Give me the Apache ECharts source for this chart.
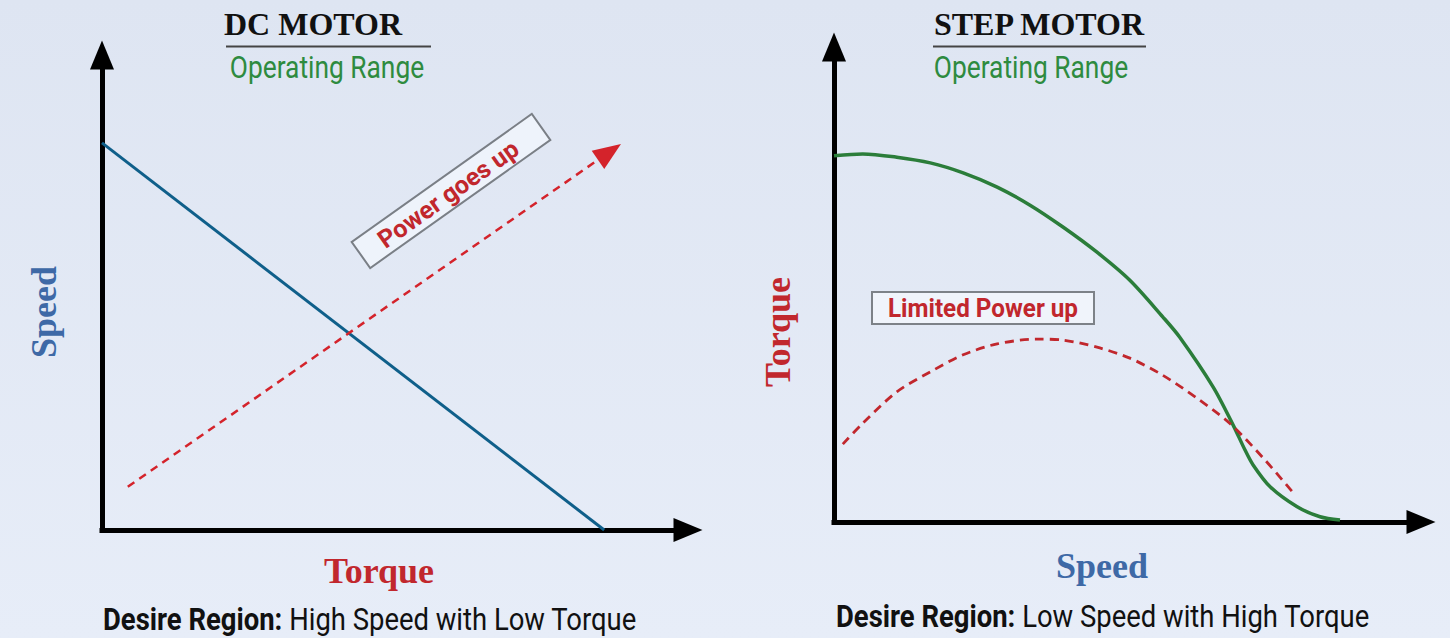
<!DOCTYPE html>
<html><head><meta charset="utf-8">
<script src="https://cdn.jsdelivr.net/npm/echarts@6/dist/echarts.min.js"></script>
<style>html,body{margin:0;padding:0;background:#e2e8f4;} #c{width:1450px;height:638px;}</style>
</head><body><div id="c"></div>
<script>
// ---- DC motor (left): speed vs torque ----
const dcTorque = [0, 85.7];
const dcSpeed = [81.5, 0];
const dcPowerFrom = [4.4, 9.1];
const dcPowerTo = [86.6, 79.6];

// ---- Step motor (right): torque vs speed ----
const stepSpeed  = [0, 4.9, 10.7, 16.4, 22.0, 27.8, 33.4, 39.0, 44.8, 50.4, 56.0, 58.9, 64.6, 68.0, 70.0, 71.4, 74.3, 78.9, 82.8, 86.2];
const stepTorque = [77.1, 77.5, 76.8, 75.6, 73.5, 70.5, 66.7, 62.1, 56.8, 50.9, 43.2, 38.9, 28.4, 20.4, 15.2, 12.0, 7.4, 3.2, 1.1, 0.4];
const limSpeed = [1.5, 4.9, 10.7, 16.4, 22.0, 27.8, 34.6, 39.0, 44.8, 50.4, 56.0, 61.8, 67.4, 73.1, 78.0];
const limPower = [16.4, 20.8, 27.4, 31.6, 35.2, 37.5, 38.5, 38.3, 36.8, 34.5, 30.9, 26.1, 20.8, 13.5, 6.5];

const zip = (a, b) => a.map((v, i) => [v, b[i]]);

const SERIF = '"Liberation Serif", "DejaVu Serif", serif';
const SANS = 'Roboto, "Liberation Sans", sans-serif';
const RED = '#c1272d';
const BLUE = '#3e69a6';
const GREEN = '#2e8b3f';

function axis(grid, name, color, gap, pad) {
  return {
    gridIndex: grid, type: 'value', min: 0, max: 100,
    axisLine: { show: true, onZero: false, symbol: ['none', 'triangle'], symbolSize: [24, 29],
      lineStyle: { color: '#000', width: 5, cap: 'square' } },
    axisTick: { show: false }, axisLabel: { show: false }, splitLine: { show: false },
    name: name, nameLocation: 'middle', nameGap: gap,
    nameTextStyle: { color: color, fontFamily: SERIF, fontWeight: 'bold', fontSize: 36, padding: pad }
  };
}

const chart = echarts.init(document.getElementById('c'), null, { renderer: 'svg' });
chart.setOption({
  animation: false,
  backgroundColor: { type: 'linear', x: 0, y: 0, x2: 0, y2: 1,
    colorStops: [{ offset: 0, color: '#dee5f2' }, { offset: 1, color: '#e7edf8' }] },
  grid: [
    { left: 102, top: 55, width: 586, height: 475 },
    { left: 834, top: 47, width: 587, height: 475 }
  ],
  xAxis: [
    axis(0, 'Torque', RED, 23, [0, 32, 0, 0]),
    axis(1, 'Speed', BLUE, 26, [0, 51, 0, 0])
  ],
  yAxis: [
    axis(0, 'Speed', BLUE, 40, [0, 39, 0, 0]),
    axis(1, 'Torque', RED, 38, [0, 95, 0, 0])
  ],
  series: [
    { type: 'line', xAxisIndex: 0, yAxisIndex: 0, data: zip(dcTorque, dcSpeed), symbol: 'none',
      lineStyle: { color: '#0f5f8a', width: 3 }, silent: true },
    { type: 'line', xAxisIndex: 0, yAxisIndex: 0, data: [], symbol: 'none',
      markLine: { silent: true, symbol: ['none', 'triangle'], symbolSize: [22, 28],
        label: { show: false },
        lineStyle: { color: '#d4232b', width: 2.5, type: [8, 6] },
        data: [[{ coord: dcPowerFrom }, { coord: dcPowerTo }]] } },
    { type: 'line', xAxisIndex: 1, yAxisIndex: 1, data: zip(stepSpeed, stepTorque), symbol: 'none',
      smooth: 0.3, lineStyle: { color: '#2b7d3a', width: 3.5 }, silent: true },
    { type: 'line', xAxisIndex: 1, yAxisIndex: 1, data: zip(limSpeed, limPower), symbol: 'none',
      smooth: 0.3, lineStyle: { color: RED, width: 2.8, type: [9, 6] }, silent: true }
  ],
  graphic: [
    { type: 'text', x: 313, y: 24, style: { text: 'DC MOTOR', font: 'bold 32px ' + SERIF, fill: '#111', align: 'center', verticalAlign: 'middle' } },
    { type: 'line', shape: { x1: 226, y1: 46.5, x2: 431, y2: 46.5 }, style: { stroke: '#444', lineWidth: 2 } },
    { type: 'text', x: 327, y: 67, scaleX: 0.85, style: { text: 'Operating Range', font: '31px ' + SANS, fill: GREEN, align: 'center', verticalAlign: 'middle' } },
    { type: 'text', x: 1039, y: 24, style: { text: 'STEP MOTOR', font: 'bold 32px ' + SERIF, fill: '#111', align: 'center', verticalAlign: 'middle' } },
    { type: 'line', shape: { x1: 933, y1: 46.5, x2: 1146, y2: 46.5 }, style: { stroke: '#444', lineWidth: 2 } },
    { type: 'text', x: 1031, y: 67, scaleX: 0.85, style: { text: 'Operating Range', font: '31px ' + SANS, fill: GREEN, align: 'center', verticalAlign: 'middle' } },
    { type: 'text', x: 103, y: 619, scaleX: 0.885, style: { text: '{b|Desire Region:} High Speed with Low Torque', font: '31px ' + SANS, fill: '#111', verticalAlign: 'middle',
        rich: { b: { fontWeight: 'bold', fontSize: 31, fontFamily: SANS, fill: '#111' } } } },
    { type: 'text', x: 836, y: 616, scaleX: 0.885, style: { text: '{b|Desire Region:} Low Speed with High Torque', font: '31px ' + SANS, fill: '#111', verticalAlign: 'middle',
        rich: { b: { fontWeight: 'bold', fontSize: 31, fontFamily: SANS, fill: '#111' } } } },
    { type: 'group', x: 451, y: 191, rotation: 0.618, children: [
      { type: 'rect', shape: { x: -110.5, y: -16, width: 221, height: 32 }, style: { fill: '#eef3fb', stroke: '#7a7f86', lineWidth: 2 } },
      { type: 'text', x: -4, y: 1, style: { text: 'Power goes up', font: 'bold 25px ' + SANS, fill: RED, align: 'center', verticalAlign: 'middle' } }
    ] },
    { type: 'rect', shape: { x: 872, y: 292, width: 222, height: 32 }, style: { fill: '#f0f4fb', stroke: '#7d8288', lineWidth: 2 } },
    { type: 'text', x: 983, y: 308, scaleX: 0.97, style: { text: 'Limited Power up', font: 'bold 25px ' + SANS, fill: RED, align: 'center', verticalAlign: 'middle' } }
  ]
});
</script>
</body></html>
